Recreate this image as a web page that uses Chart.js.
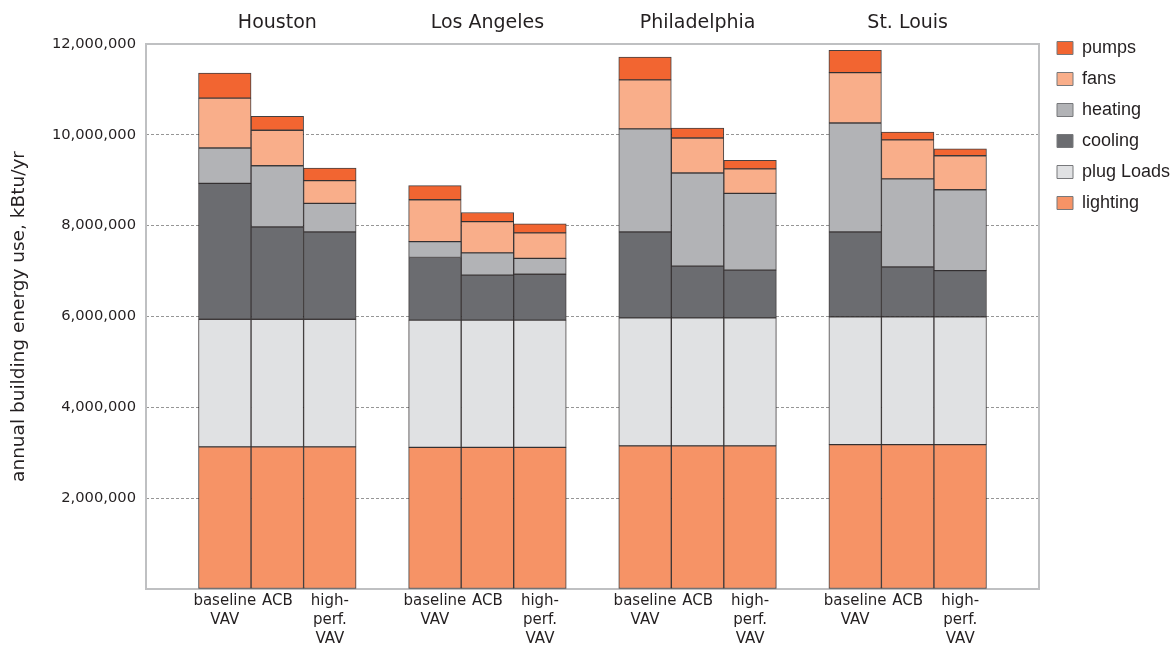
<!DOCTYPE html>
<html><head><meta charset="utf-8">
<script src="https://cdn.jsdelivr.net/npm/chart.js@4.4.0/dist/chart.umd.min.js"></script>
<style>html,body{margin:0;padding:0;background:#fff;}#wrap{width:1171px;height:648px;}</style>
</head><body><div id="wrap"><canvas id="c" width="1171" height="648"></canvas></div>
<script>
// ---- data (kBtu/yr) ----
const cities = ['Houston', 'Los Angeles', 'Philadelphia', 'St. Louis'];
const systems = [['baseline', 'VAV'], 'ACB', ['high-', 'perf.', 'VAV']];
const yTicks = [0, 2000000, 4000000, 6000000, 8000000, 10000000, 12000000];
// per bar: Houston(base, ACB, HP), LA(...), Philadelphia(...), St. Louis(...)
const lighting  = [3130000, 3130000, 3130000, 3120000, 3120000, 3120000, 3150000, 3150000, 3150000, 3180000, 3180000, 3180000];
const plugLoads = [2810000, 2810000, 2810000, 2800000, 2800000, 2800000, 2820000, 2820000, 2820000, 2810000, 2810000, 2810000];
const cooling   = [2990000, 2030000, 1920000, 1380000, 990000, 1010000, 1890000, 1140000, 1050000, 1870000, 1100000, 1020000];
const heating   = [780000, 1350000, 630000, 350000, 490000, 350000, 2270000, 2050000, 1690000, 2400000, 1940000, 1780000];
const fans      = [1100000, 780000, 500000, 920000, 690000, 560000, 1080000, 770000, 540000, 1110000, 860000, 750000];
const pumps     = [550000, 310000, 280000, 310000, 200000, 200000, 500000, 220000, 190000, 490000, 170000, 150000];

// ---- build slot layout: spacer, 3 bars, spacer, 3 bars ... spacer ----
function padSeries(arr) {
  const out = [null];
  cities.forEach((c, ci) => {
    systems.forEach((s, si) => out.push(arr[ci * systems.length + si]));
    out.push(null);
  });
  return out;
}
const bottomLabels = [''];
const topLabels = [''];
cities.forEach(c => {
  systems.forEach((s, si) => {
    bottomLabels.push(s);
    topLabels.push(si === 1 ? c : '');
  });
  bottomLabels.push('');
  topLabels.push('');
});

Chart.defaults.font.family = "'DejaVu Sans', sans-serif";
Chart.defaults.color = '#231f20';

const edge = 'rgba(35,31,32,0.85)';
function ds(label, data, color) {
  return { label, data: padSeries(data), backgroundColor: color, borderColor: edge, borderWidth: 1,
           borderSkipped: false, barPercentage: 1.0, categoryPercentage: 1.0 };
}

const framePlugin = {
  id: 'frame',
  beforeDatasetsDraw(chart) {
    const a = chart.chartArea, ctx = chart.ctx;
    ctx.save();
    ctx.strokeStyle = '#bfc0c2';
    ctx.lineWidth = 2;
    ctx.strokeRect(a.left, a.top, a.right - a.left, a.bottom - a.top);
    ctx.restore();
  }
};
const legendPos = {
  id: 'legendPos',
  afterLayout(chart) {
    const lg = chart.legend;
    lg.left = 1044; lg.right = 1171;
    lg.top = 26; lg.bottom = 648;
  }
};

new Chart(document.getElementById('c'), {
  type: 'bar',
  data: {
    labels: bottomLabels,
    datasets: [
      ds('lighting', lighting, '#f69366'),
      ds('plug Loads', plugLoads, '#e0e1e3'),
      ds('cooling', cooling, '#6b6c70'),
      ds('heating', heating, '#b2b3b6'),
      ds('fans', fans, '#f9ae8a'),
      ds('pumps', pumps, '#f26531')
    ]
  },
  options: {
    responsive: false,
    devicePixelRatio: 1,
    animation: false,
    layout: { padding: { top: 2, right: 0, bottom: -4, left: 0 } },
    plugins: {
      tooltip: { enabled: false },
      legend: {
        position: 'right',
        align: 'start',
        reverse: true,
        maxWidth: 132,
        labels: {
          font: { family: "'Liberation Sans', Arial, sans-serif", size: 18 },
          boxWidth: 16, boxHeight: 13, padding: 13,
          color: '#231f20',
          generateLabels(chart) {
            const items = Chart.defaults.plugins.legend.labels.generateLabels(chart);
            items.forEach(it => { it.strokeStyle = '#77787b'; it.lineWidth = 1; });
            return items;
          }
        }
      }
    },
    scales: {
      x: {
        stacked: true,
        grid: { display: false, drawTicks: false },
        border: { display: false },
        ticks: { autoSkip: false, maxRotation: 0, minRotation: 0, padding: 3,
                 font: { size: 15, lineHeight: 1.2667 }, color: '#231f20' }
      },
      x2: {
        type: 'category',
        position: 'top',
        labels: topLabels,
        offset: true,
        grid: { display: false, drawTicks: false },
        border: { display: false },
        ticks: { autoSkip: false, maxRotation: 0, minRotation: 0, padding: 9.6,
                 font: { size: 19, lineHeight: 1.2 }, color: '#231f20' }
      },
      y: {
        stacked: true,
        min: 0, max: 12000000,
        afterFit(scale) { scale.width = 146; },
        afterBuildTicks(scale) { scale.ticks = yTicks.map(v => ({ value: v })); },
        grid: {
          drawTicks: false,
          color: ctx => (ctx.tick && (ctx.tick.value === 0 || ctx.tick.value === 12000000)) ? 'rgba(0,0,0,0)' : '#969696',
          lineWidth: 1
        },
        border: { display: false, dash: [3, 2] },
        ticks: {
          padding: 10,
          font: { size: 14.7 },
          color: '#231f20',
          callback: v => v === 0 ? '' : Number(v).toLocaleString('en-US')
        },
        title: {
          display: true,
          text: 'annual building energy use, kBtu/yr',
          font: { size: 18.5 },
          color: '#231f20',
          padding: { top: 8, bottom: 0 }
        }
      }
    }
  },
  plugins: [framePlugin, legendPos]
});
</script>
</body></html>
